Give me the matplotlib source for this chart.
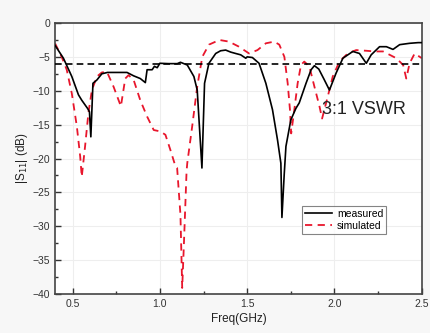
import matplotlib
matplotlib.use("Agg")
import matplotlib.pyplot as plt
from matplotlib.ticker import MultipleLocator

plt.rcParams['font.family'] = ['Liberation Sans', 'DejaVu Sans']

meas_f = [0.40, 0.448, 0.496, 0.534, 0.553, 0.586, 0.597, 0.605, 0.617, 0.64, 0.668, 0.70, 0.75, 0.812,
          0.85, 0.888, 0.917, 0.927, 0.956, 0.969, 0.985, 1.0, 1.05, 1.1, 1.118, 1.157, 1.195, 1.214,
          1.241, 1.256, 1.281, 1.32, 1.348, 1.377, 1.406, 1.434, 1.463, 1.492, 1.50, 1.53, 1.568,
          1.607, 1.645, 1.674, 1.693, 1.699, 1.712, 1.722, 1.75, 1.779, 1.798, 1.837, 1.866, 1.885,
          1.91, 1.94, 1.971, 2.009, 2.048, 2.105, 2.143, 2.182, 2.21, 2.258, 2.297, 2.335, 2.373,
          2.43, 2.479, 2.5]
meas_s = [-3.3, -5.2, -7.9, -10.6, -11.4, -12.6, -13.1, -16.8, -8.9, -8.4, -7.5, -7.3, -7.3, -7.3,
          -7.8, -8.2, -8.8, -6.9, -6.9, -6.4, -6.6, -5.95, -6.0, -6.0, -5.8, -6.2, -7.9, -9.9,
          -21.4, -8.9, -5.95, -4.5, -4.1, -4.0, -4.3, -4.5, -4.7, -5.2, -5.0, -5.1, -5.95,
          -8.9, -12.8, -17.3, -20.7, -28.7, -22.4, -18.2, -14.3, -12.6, -11.8, -8.9, -6.9, -6.3,
          -6.8, -8.3, -9.9, -7.4, -5.2, -4.2, -4.5, -5.95, -4.7, -3.5, -3.5, -3.9, -3.2,
          -3.0, -2.9, -2.9]

sim_f = [0.40, 0.438, 0.467, 0.496, 0.525, 0.544, 0.553, 0.572, 0.591, 0.611, 0.64, 0.668, 0.697,
         0.735, 0.777, 0.802, 0.821, 0.85, 0.888, 0.927, 0.965, 1.003, 1.032, 1.06, 1.09, 1.099,
         1.118, 1.128, 1.137, 1.153, 1.157, 1.185, 1.214, 1.243, 1.281, 1.32, 1.339, 1.396, 1.453,
         1.511, 1.559, 1.607, 1.655, 1.684, 1.713, 1.732, 1.745, 1.752, 1.77, 1.789, 1.808, 1.827,
         1.856, 1.885, 1.914, 1.929, 1.961, 1.99, 2.028, 2.076, 2.124, 2.182, 2.23, 2.278, 2.316,
         2.354, 2.393, 2.411, 2.43, 2.459, 2.5]
sim_s = [-3.0, -5.0, -6.9, -10.4, -15.3, -19.7, -22.7, -18.2, -13.3, -9.9, -7.9, -7.3, -7.2,
         -9.4, -12.3, -8.2, -7.7, -8.4, -11.4, -13.8, -15.8, -16.0, -16.5, -18.7, -21.2, -21.4,
         -28.3, -39.1, -33.2, -21.9, -20.7, -15.3, -9.4, -5.0, -3.2, -2.75, -2.5, -2.75, -3.5,
         -4.5, -4.0, -3.0, -2.75, -3.2, -5.0, -8.9, -12.8, -16.3, -12.8, -8.9, -6.2, -5.7,
         -6.4, -9.4, -12.3, -14.1, -10.9, -7.9, -5.7, -4.5, -4.0, -4.1, -4.2, -4.2, -4.7,
         -5.2, -6.2, -8.2, -5.95, -4.5, -5.2]

vswr_level = -6.0

fig = plt.figure(figsize=(4.30, 3.33), dpi=100, facecolor='#f7f7f7')
ax = fig.add_axes([0.128, 0.117, 0.853, 0.814])
ax.set_facecolor('white')

ax.plot(meas_f, meas_s, color='black', lw=1.2, label='measured', zorder=3)
ax.plot(sim_f, sim_s, color='#e8162c', lw=1.3, ls=(0, (4, 3)), label='simulated', zorder=2)
ax.axhline(vswr_level, color='black', lw=1.2, ls=(0, (4, 2.5)), zorder=4)

ax.set_xlim(0.4, 2.5)
ax.set_ylim(-40, 0)
ax.xaxis.set_major_locator(MultipleLocator(0.5))
ax.xaxis.set_minor_locator(MultipleLocator(0.25))
ax.yaxis.set_major_locator(MultipleLocator(5))
ax.yaxis.set_minor_locator(MultipleLocator(2.5))
ax.tick_params(which='both', direction='in', colors='#333333', labelsize=7.5,
               top=False, right=False)
ax.tick_params(which='major', length=4, width=1)
ax.tick_params(which='minor', length=2.5, width=1)
ax.xaxis.set_major_formatter(matplotlib.ticker.FormatStrFormatter('%.1f'))
ax.grid(True, which='major', color='#eeeeee', lw=0.8, zorder=0)
for s in ax.spines.values():
    s.set_color('#444444')
    s.set_linewidth(1.2)

ax.set_xlabel('Freq(GHz)', fontsize=8.5, color='#222222', labelpad=3)
ax.set_ylabel('|S$_{11}$| (dB)', fontsize=8.5, color='#222222', labelpad=2)

ax.text(1.93, -12.8, '3:1 VSWR', fontsize=13, color='#222222', va='center', ha='left')

leg = ax.legend(loc='upper left', bbox_to_anchor=(0.672, 0.326), fontsize=7.5,
                frameon=True, fancybox=False, handlelength=2.6, borderpad=0.3,
                labelspacing=0.2, handletextpad=0.5, borderaxespad=0)
leg.get_frame().set_edgecolor('#666666')
leg.get_frame().set_linewidth(0.8)

fig.savefig('out.png', dpi=100, facecolor=fig.get_facecolor())
